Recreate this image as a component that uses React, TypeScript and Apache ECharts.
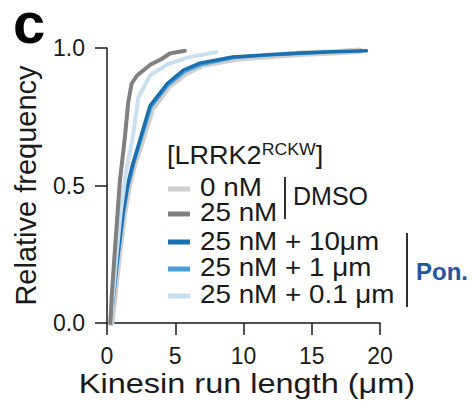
import React, { useEffect, useRef } from "react";
import * as echarts from "echarts";

const FONT = "'Liberation Sans', Arial, Helvetica, sans-serif";

const seriesNames = ["0 nM", "25 nM", "25 nM + 10\u03bcm", "25 nM + 1 \u03bcm", "25 nM + 0.1 \u03bcm"];
const seriesColors = ["#cfcfcf", "#808080", "#1c6fae", "#4aa0d8", "#c9e0f3"];

// CDF points [run length (µm), relative frequency]
const cdf0nM: [number, number][] = [
  [0.3, 0], [0.45, 0.06], [0.8, 0.22], [1.25, 0.4], [1.6, 0.5], [2.0, 0.58], [2.35, 0.63],
  [3.3, 0.78], [4.5, 0.86], [5.8, 0.91], [7.0, 0.94], [9.5, 0.962], [12.0, 0.972],
  [14.5, 0.98], [17.0, 0.985], [18.5, 0.99],
];
const cdf25nM: [number, number][] = [
  [0.25, 0], [0.35, 0.1], [0.6, 0.28], [0.95, 0.52], [1.3, 0.67], [1.55, 0.8], [1.8, 0.87],
  [2.2, 0.9], [2.7, 0.92], [3.2, 0.94], [4.0, 0.96], [4.6, 0.98], [5.7, 0.99],
];
const cdfPon10: [number, number][] = [
  [0.3, 0], [0.37, 0.06], [0.73, 0.22], [1.17, 0.4], [1.5, 0.5], [1.9, 0.58], [2.2, 0.63],
  [3.15, 0.79], [4.4, 0.87], [5.6, 0.92], [6.8, 0.945], [9.2, 0.967], [11.7, 0.975],
  [14.1, 0.982], [16.6, 0.986], [19.0, 0.99],
];
const cdfPon1: [number, number][] = [
  [0.3, 0], [0.4, 0.06], [0.75, 0.22], [1.2, 0.4], [1.55, 0.5], [1.95, 0.58], [2.25, 0.63],
  [3.2, 0.785], [4.45, 0.865], [5.7, 0.915], [6.9, 0.94], [9.3, 0.965], [12.0, 0.975],
  [14.0, 0.98], [16.0, 0.985],
];
const cdfPon01: [number, number][] = [
  [0.3, 0], [0.4, 0.08], [0.7, 0.25], [1.0, 0.4], [1.4, 0.55], [1.9, 0.68], [2.3, 0.82],
  [3.15, 0.9], [4.4, 0.94], [5.9, 0.965], [8.0, 0.985],
];
const seriesData = [cdf0nM, cdf25nM, cdfPon10, cdfPon1, cdfPon01];
const seriesWidths = [6.5, 4, 3.5, 3.5, 4];
const drawOrder = [0, 3, 2, 4, 1];

const xTicks = [0, 5, 10, 15, 20];
const yTicks = [0, 0.5, 1.0];
const xTitle = "Kinesin run length (\u03bcm)";
const yTitle = "Relative frequency";

export default function App() {
  const ref = useRef<HTMLDivElement>(null);
  useEffect(() => {
    if (!ref.current) return;
    const chart = echarts.init(ref.current, undefined, { renderer: "svg" });
    const textRowsY = [187, 212, 241, 267, 294];
    const swatchRowsY = [189, 214, 242, 269, 296];
    const legendGraphics: any[] = [];
    seriesNames.forEach((name, i) => {
      legendGraphics.push({
        type: "line",
        shape: { x1: 168, y1: swatchRowsY[i], x2: 190, y2: swatchRowsY[i] },
        style: { stroke: seriesColors[i], lineWidth: 5 },
      });
      legendGraphics.push({
        type: "text",
        x: 200, y: textRowsY[i], scaleX: 1.07,
        style: {
          x: 0, y: 0, text: name, fontSize: 26, fontFamily: FONT,
          fill: "#1a1a1a", verticalAlign: "middle", align: "left",
        },
      });
    });
    chart.setOption({
      animation: false,
      grid: { left: 107, right: 93, top: 48, bottom: 90 },
      xAxis: {
        type: "value", min: xTicks[0], max: xTicks[xTicks.length - 1], interval: 5,
        axisLine: { show: true, lineStyle: { color: "#1a1a1a", width: 1.5 } },
        axisTick: { show: true, length: 12, lineStyle: { color: "#1a1a1a", width: 1.5 } },
        axisLabel: { fontSize: 23, fontFamily: FONT, color: "#1a1a1a", margin: 21 },
        splitLine: { show: false },
      },
      yAxis: {
        type: "value", min: yTicks[0], max: yTicks[yTicks.length - 1], interval: 0.5,
        name: yTitle, nameLocation: "middle", nameGap: 67,
        nameTextStyle: { fontSize: 29, fontFamily: FONT, color: "#1a1a1a" },
        axisLine: { show: true, lineStyle: { color: "#1a1a1a", width: 1.5 } },
        axisTick: { show: true, length: 12, lineStyle: { color: "#1a1a1a", width: 1.5 } },
        axisLabel: {
          fontSize: 23, fontFamily: FONT, color: "#1a1a1a", margin: 22,
          formatter: (v: number) => v.toFixed(1),
        },
        splitLine: { show: false },
      },
      series: drawOrder.map((i) => ({
        type: "line",
        name: seriesNames[i],
        data: seriesData[i],
        showSymbol: false,
        symbol: "none",
        lineStyle: { color: seriesColors[i], width: seriesWidths[i], cap: "round", join: "round" },
        z: 2,
      })),
      graphic: [
        {
          type: "text",
          x: 247, y: 383, scaleX: 1.16,
          style: {
            x: 0, y: 0, text: xTitle, fontSize: 28, fontFamily: FONT,
            fill: "#1a1a1a", verticalAlign: "middle", align: "center",
          },
        },
        {
          type: "text",
          style: {
            x: 13, y: 22, text: "c", fontSize: 58, lineHeight: 42, fontWeight: "bold", fontFamily: FONT,
            fill: "#000", verticalAlign: "middle", align: "left",
          },
        },
        {
          type: "text",
          x: 167, y: 155, scaleX: 1.04,
          style: {
            x: 0, y: 0, text: "[LRRK2{sup|RCKW}]", fontSize: 26, fontFamily: FONT,
            fill: "#1a1a1a", verticalAlign: "middle", align: "left",
            rich: { sup: { fontSize: 17, fontFamily: FONT, fill: "#1a1a1a", verticalAlign: "top", padding: [0, 0, 12, 0] } },
          },
        },
        ...legendGraphics,
        {
          type: "line",
          shape: { x1: 285, y1: 177, x2: 285, y2: 219 },
          style: { stroke: "#1a1a1a", lineWidth: 1.8 },
        },
        {
          type: "text",
          style: {
            x: 293, y: 196, text: "DMSO", fontSize: 25, fontFamily: FONT,
            fill: "#1a1a1a", verticalAlign: "middle", align: "left",
          },
        },
        {
          type: "line",
          shape: { x1: 407, y1: 233, x2: 407, y2: 307 },
          style: { stroke: "#1a1a1a", lineWidth: 1.8 },
        },
        {
          type: "text",
          style: {
            x: 416, y: 271, text: "Pon.", fontSize: 24, fontWeight: "bold", fontFamily: FONT,
            fill: "#2456a0", verticalAlign: "middle", align: "left",
          },
        },
      ],
    });
    return () => chart.dispose();
  }, []);
  return (
    <div
      ref={ref}
      style={{ position: "fixed", left: 0, top: 0, width: 473, height: 413, background: "#fff" }}
    />
  );
}
